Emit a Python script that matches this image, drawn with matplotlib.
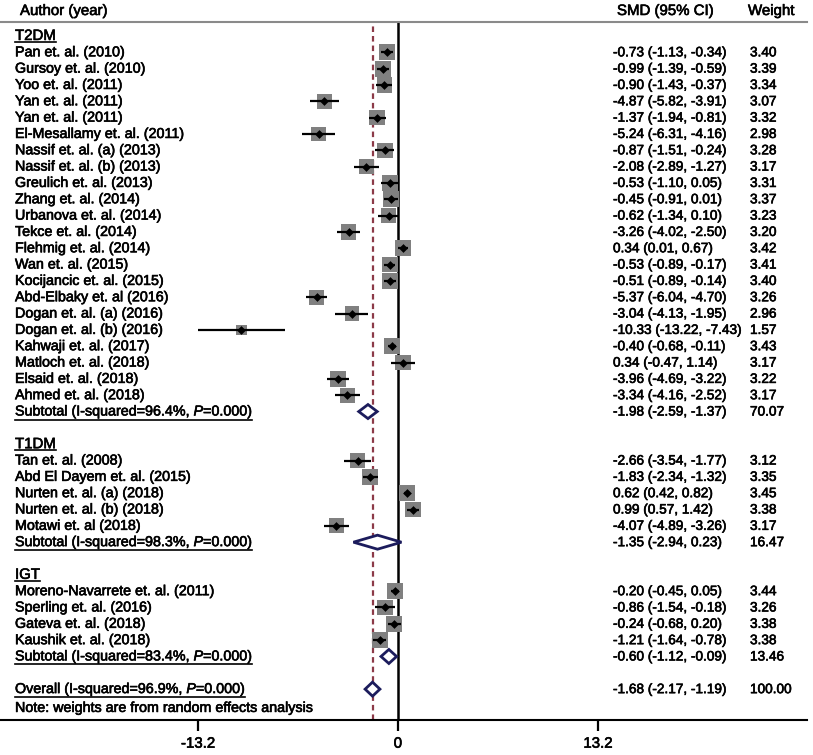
"""
Forest plot: SMD by diabetes subgroup (T2DM / T1DM / IGT)
"""

import matplotlib
matplotlib.use("Agg")
import matplotlib.pyplot as plt
import matplotlib.patheffects as pe
from matplotlib.patches import Polygon
from matplotlib.lines import Line2D
from matplotlib.transforms import IdentityTransform

plt.rcParams["font.family"] = ["Liberation Sans", "DejaVu Sans"]
plt.rcParams["mathtext.fontset"] = "custom"
plt.rcParams["mathtext.it"] = "Liberation Sans:italic"
plt.rcParams["mathtext.rm"] = "Liberation Sans"

# ── Data ──────────────────────────────────────
t2dm_names = ["Pan et. al. (2010)", "Gursoy et. al. (2010)", "Yoo et. al. (2011)",
              "Yan et. al. (2011)", "Yan et. al. (2011)", "El-Mesallamy et. al. (2011)",
              "Nassif et. al. (a) (2013)", "Nassif et. al. (b) (2013)", "Greulich et. al. (2013)",
              "Zhang et. al. (2014)", "Urbanova et. al. (2014)", "Tekce et. al. (2014)",
              "Flehmig et. al. (2014)", "Wan et. al. (2015)", "Kocijancic et. al. (2015)",
              "Abd-Elbaky et. al (2016)", "Dogan et. al. (a) (2016)", "Dogan et. al. (b) (2016)",
              "Kahwaji et. al. (2017)", "Matloch et. al. (2018)", "Elsaid et. al. (2018)",
              "Ahmed et. al. (2018)"]
t2dm_smd = [-0.73, -0.99, -0.90, -4.87, -1.37, -5.24, -0.87, -2.08, -0.53, -0.45, -0.62,
            -3.26, 0.34, -0.53, -0.51, -5.37, -3.04, -10.33, -0.40, 0.34, -3.96, -3.34]
t2dm_lo = [-1.13, -1.39, -1.43, -5.82, -1.94, -6.31, -1.51, -2.89, -1.10, -0.91, -1.34,
           -4.02, 0.01, -0.89, -0.89, -6.04, -4.13, -13.22, -0.68, -0.47, -4.69, -4.16]
t2dm_hi = [-0.34, -0.59, -0.37, -3.91, -0.81, -4.16, -0.24, -1.27, 0.05, 0.01, 0.10,
           -2.50, 0.67, -0.17, -0.14, -4.70, -1.95, -7.43, -0.11, 1.14, -3.22, -2.52]
t2dm_w = [3.40, 3.39, 3.34, 3.07, 3.32, 2.98, 3.28, 3.17, 3.31, 3.37, 3.23,
          3.20, 3.42, 3.41, 3.40, 3.26, 2.96, 1.57, 3.43, 3.17, 3.22, 3.17]

t1dm_names = ["Tan et. al. (2008)", "Abd El Dayem et. al. (2015)", "Nurten et. al. (a) (2018)",
              "Nurten et. al. (b) (2018)", "Motawi et. al (2018)"]
t1dm_smd = [-2.66, -1.83, 0.62, 0.99, -4.07]
t1dm_lo = [-3.54, -2.34, 0.42, 0.57, -4.89]
t1dm_hi = [-1.77, -1.32, 0.82, 1.42, -3.26]
t1dm_w = [3.12, 3.35, 3.45, 3.38, 3.17]

igt_names = ["Moreno-Navarrete et. al. (2011)", "Sperling et. al. (2016)",
             "Gateva et. al. (2018)", "Kaushik et. al. (2018)"]
igt_smd = [-0.20, -0.86, -0.24, -1.21]
igt_lo = [-0.45, -1.54, -0.68, -1.64]
igt_hi = [0.05, -0.18, 0.20, -0.78]
igt_w = [3.44, 3.26, 3.38, 3.38]

group_labels = ["T2DM", "T1DM", "IGT"]
sub_i2 = ["96.4%", "98.3%", "83.4%"]
sub_smd = [-1.98, -1.35, -0.60]
sub_lo = [-2.59, -2.94, -1.12]
sub_hi = [-1.37, 0.23, -0.09]
sub_w = [70.07, 16.47, 13.46]

overall_i2 = "96.9%"
overall = [-1.68, -2.17, -1.19, 100.00]

xticks = [-13.2, 0, 13.2]

groups = [
    (t2dm_names, t2dm_smd, t2dm_lo, t2dm_hi, t2dm_w),
    (t1dm_names, t1dm_smd, t1dm_lo, t1dm_hi, t1dm_w),
    (igt_names, igt_smd, igt_lo, igt_hi, igt_w),
]

# ── Figure ────────────────────────────────────
W, H = 813, 755
FS = 10.3     # labels
FN = 9.8      # numeric columns
bold_fx = [pe.withStroke(linewidth=0.45, foreground="black")]

fig = plt.figure(figsize=(W / 100, H / 100), dpi=100)
ax = fig.add_axes([0, 1 - 720 / H, 807 / W, (720 - 22) / H])
ax.set_xlim(-26.27, 27.0)
ax.set_ylim(41.89, -0.857)

tr = ax.get_yaxis_transform()
X_LAB, X_SMD, X_W = 15 / 807, 613 / 807, 750 / 807

underlined = []
sq_col = "#808080"
dia_col = "#1c1c5c"


def txt(x, y, s, fs=FS, **kw):
    return ax.text(x, y, s, transform=tr, va="center", fontsize=fs,
                   path_effects=bold_fx, **kw)


def draw_diamond(y, est, lo, hi):
    h = 0.43
    ax.add_patch(Polygon([(lo, y), (est, y - h), (hi, y), (est, y + h)], closed=True,
                         facecolor="white", edgecolor=dia_col, lw=2, zorder=5))


def row_text(y, smd, lo, hi, w):
    txt(X_SMD, y, f"{smd:.2f} ({lo:.2f}, {hi:.2f})", fs=FN)
    txt(X_W, y, f"{w:.2f}", fs=FN)


row = 0
for gi, (names, smd, lo, hi, w) in enumerate(groups):
    underlined.append(txt(X_LAB, row, group_labels[gi], fs=FS + 0.5))
    row += 1
    ys = list(range(row, row + len(names)))
    for y, n, s, l, h, wt in zip(ys, names, smd, lo, hi, w):
        txt(X_LAB, y, n)
        row_text(y, s, l, h, wt)
    # square area proportional to study weight
    ax.scatter(smd, ys, s=[v * 38 for v in w], marker="s", color=sq_col, zorder=2, linewidths=0)
    ax.hlines(ys, lo, hi, color="black", lw=1.6, zorder=3)
    ax.scatter(smd, ys, s=20, marker="D", color="black", zorder=4, linewidths=0)
    row += len(names)
    underlined.append(txt(X_LAB, row, f"Subtotal (I-squared={sub_i2[gi]}, $P$=0.000)"))
    draw_diamond(row, sub_smd[gi], sub_lo[gi], sub_hi[gi])
    row_text(row, sub_smd[gi], sub_lo[gi], sub_hi[gi], sub_w[gi])
    row += 2

# overall
underlined.append(txt(X_LAB, row, f"Overall (I-squared={overall_i2}, $P$=0.000)"))
draw_diamond(row, overall[0], overall[1], overall[2])
row_text(row, *overall)
txt(X_LAB, row + 1.15, "Note: weights are from random effects analysis")

# reference lines
ax.axvline(0, color="black", lw=1.8, zorder=1)
ax.axvline(overall[0], color="#8c3a48", lw=1.6, ls=(0, (2.5, 1.8)), zorder=1)

# axes styling
for s in ["left", "right"]:
    ax.spines[s].set_visible(False)
ax.spines["top"].set_color("#8a8a8a")
ax.spines["top"].set_linewidth(1.5)
ax.spines["bottom"].set_linewidth(1.5)
ax.set_yticks([])
ax.set_xticks(xticks)
ax.set_xticklabels([f"{v:g}" for v in xticks])
ax.tick_params(axis="x", direction="out", length=8, width=1.6, labelsize=FS + 0.5, pad=4)
for lab in ax.get_xticklabels():
    lab.set_path_effects(bold_fx)

# header
for x, s in [(20, "Author (year)"), (617, "SMD (95% CI)"), (748, "Weight")]:
    fig.text(x / W, 1 - 11 / H, s, va="center", fontsize=FS + 0.5, path_effects=bold_fx)

# underline group headers / subtotals
fig.canvas.draw()
rend = fig.canvas.get_renderer()
for t in underlined:
    bb = t.get_window_extent(rend)
    fig.add_artist(Line2D([bb.x0, bb.x1], [bb.y0 + 1, bb.y0 + 1],
                          transform=IdentityTransform(), color="black", lw=1.2))

fig.savefig("out.png", dpi=100)
